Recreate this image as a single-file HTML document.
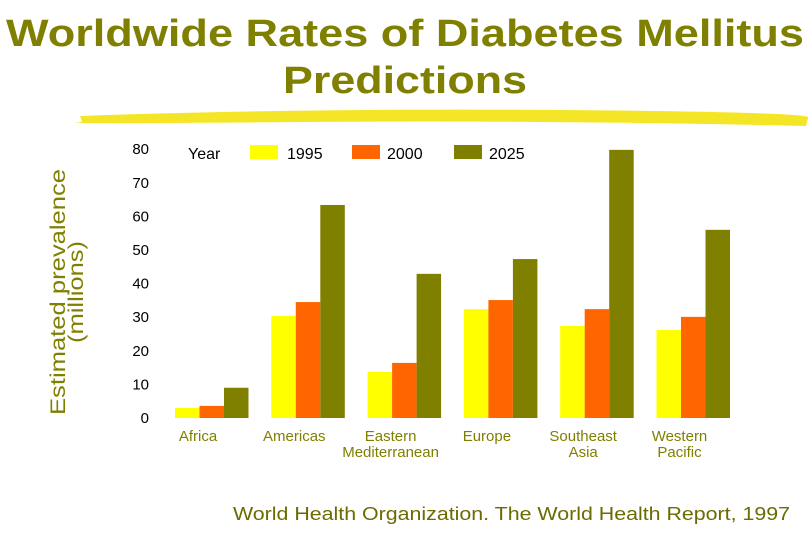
<!DOCTYPE html>
<html><head><meta charset="utf-8"><style>
body{margin:0;background:#fff;width:810px;height:540px;overflow:hidden;font-family:"Liberation Sans",sans-serif}
</style></head><body>
<svg width="810" height="540" xmlns="http://www.w3.org/2000/svg">
<text x="405" y="46" text-anchor="middle" font-size="38" font-weight="bold" fill="#808000" textLength="798" lengthAdjust="spacingAndGlyphs">Worldwide Rates of Diabetes Mellitus</text>
<text x="405" y="93" text-anchor="middle" font-size="38" font-weight="bold" fill="#808000" textLength="244" lengthAdjust="spacingAndGlyphs">Predictions</text>
<path d="M80,116 Q300,108 560,110 T808,118 L806,126 Q560,120 300,122 T82,122 Z" fill="#f2e200" opacity="0.85"/>
<g transform="translate(65,292) rotate(-90)">
<text x="0" y="0" text-anchor="middle" font-size="21" fill="#808000" textLength="246" lengthAdjust="spacingAndGlyphs">Estimated prevalence</text>
<text x="0" y="18" text-anchor="middle" font-size="21" fill="#808000" textLength="102" lengthAdjust="spacingAndGlyphs">(millions)</text>
</g>
<g id="yt"></g><g id="bars"></g><g id="xl"></g>
<g font-size="16" fill="#000">
<text x="188" y="159">Year</text>
<rect x="250" y="145" width="28" height="14" fill="#ffff00"/>
<text x="287" y="159">1995</text>
<rect x="352" y="145" width="28" height="14" fill="#ff6600"/>
<text x="387" y="159">2000</text>
<rect x="454" y="145" width="28" height="14" fill="#808000"/>
<text x="489" y="159">2025</text>
</g>
<text x="233" y="520" font-size="18" fill="#6b6b00" textLength="557" lengthAdjust="spacingAndGlyphs">World Health Organization.  The World Health Report, 1997</text>
</svg>
<script>
const categories=[["Africa"],["Americas"],["Eastern","Mediterranean"],["Europe"],["Southeast","Asia"],["Western","Pacific"]];
const v1995=[3,30.4,13.7,32.4,27.4,26.2];
const v2000=[3.6,34.5,16.4,35.1,32.4,30.1];
const v2025=[9,63.4,42.9,47.3,79.8,56];
const ticks=[0,10,20,30,40,50,60,70,80];
const NS="http://www.w3.org/2000/svg";
const y=v=>418-v*3.36;
const gx=i=>175+i*96.3;
const bw=24.5;
function mk(t,a,p){const e=document.createElementNS(NS,t);for(const k in a)e.setAttribute(k,a[k]);p.appendChild(e);return e;}
const yt=document.getElementById('yt'),bars=document.getElementById('bars'),xl=document.getElementById('xl');
ticks.forEach(t=>{const e=mk('text',{x:149,y:y(t)+5,'text-anchor':'end','font-size':15,fill:'#000'},yt);e.textContent=t;

});
const series=[[v1995,'#ffff00','1995'],[v2000,'#ff6600','2000'],[v2025,'#808000','2025']];
categories.forEach((c,i)=>{
series.forEach((s,j)=>{const r=mk('rect',{x:gx(i)+j*bw,y:y(s[0][i]),width:bw,height:418-y(s[0][i]),fill:s[1]},bars);

});
const t=mk('text',{x:gx(i)+23,'text-anchor':'middle','font-size':15,fill:'#808000'},xl);


c.forEach((l,k)=>{const ts=mk('tspan',{x:gx(i)+23,y:441+k*16},t);ts.textContent=l;});
});
</script>
</body></html>
